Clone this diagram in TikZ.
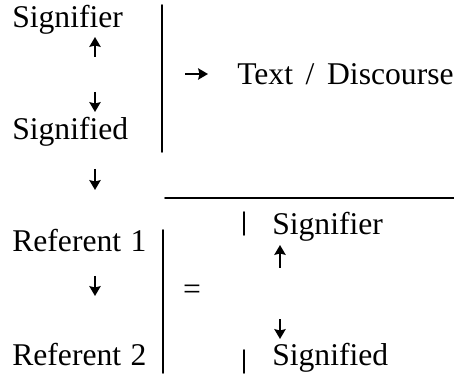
\documentclass[tikz,border=0pt]{standalone}
\usepackage{fontspec}
\setmainfont{Liberation Serif}
\usepackage{tikz}
\usetikzlibrary{arrows.meta}
\tikzset{
  every picture/.style={line join=round, line cap=round, >=Stealth},
  word/.style={anchor=base west, inner sep=0pt, font=\fontsize{22.5}{26}\selectfont},
  rule/.style={line width=1.3pt},
  arr/.style={line width=2.1pt, line cap=butt, -{Stealth[length=7pt,width=8pt,inset=1pt]}},
}
\begin{document}
\begin{tikzpicture}
\useasboundingbox (0,0) rectangle (11.350,9.325);
% words
\node[word] (sigA) at (0.300,8.625) {Signifier};
\node[word] (sgdA) at (0.300,5.825) {Signified};
\node[word] (text) at (5.925,7.200) {Text\hspace{0.4em}/\hspace{0.4em}Discourse};
\node[word] (refA) at (0.300,3.025) {Referent\hspace{0.3em}1};
\node[word] (refB) at (0.300,0.200) {Referent\hspace{0.3em}2};
\node[word] (sigB) at (6.800,3.450) {Signifier};
\node[word] (sgdB) at (6.800,0.200) {Signified};
\node[word, anchor=center] (eq) at (4.800,2.025) {=};
% arrow ends
\coordinate (upA0) at (2.375,7.900); \coordinate (upA1) at (2.375,8.400);
\coordinate (dnA0) at (2.375,7.025); \coordinate (dnA1) at (2.375,6.525);
\coordinate (dnB0) at (2.375,5.100); \coordinate (dnB1) at (2.375,4.575);
\coordinate (rtA0) at (4.625,7.475); \coordinate (rtA1) at (5.200,7.475);
\coordinate (dnC0) at (2.375,2.425); \coordinate (dnC1) at (2.375,1.925);
\coordinate (upB0) at (7.000,2.625); \coordinate (upB1) at (7.000,3.200);
\coordinate (dnD0) at (7.000,1.350); \coordinate (dnD1) at (7.000,0.850);
\draw[arr] (upA0)--(upA1);
\draw[arr] (dnA0)--(dnA1);
\draw[arr] (dnB0)--(dnB1);
\draw[arr] (rtA0)--(rtA1);
\draw[arr] (dnC0)--(dnC1);
\draw[arr] (upB0)--(upB1);
\draw[arr] (dnD0)--(dnD1);
% rules
\draw[rule] (4.050,9.200)--(4.050,5.525);
\draw[rule] (4.125,4.375)--(11.350,4.375);
\draw[rule] (4.075,3.575)--(4.075,0.000);
\draw[rule] (6.100,4.025)--(6.100,3.450);
\draw[rule] (6.100,0.575)--(6.100,0.000);
\end{tikzpicture}
\end{document}
